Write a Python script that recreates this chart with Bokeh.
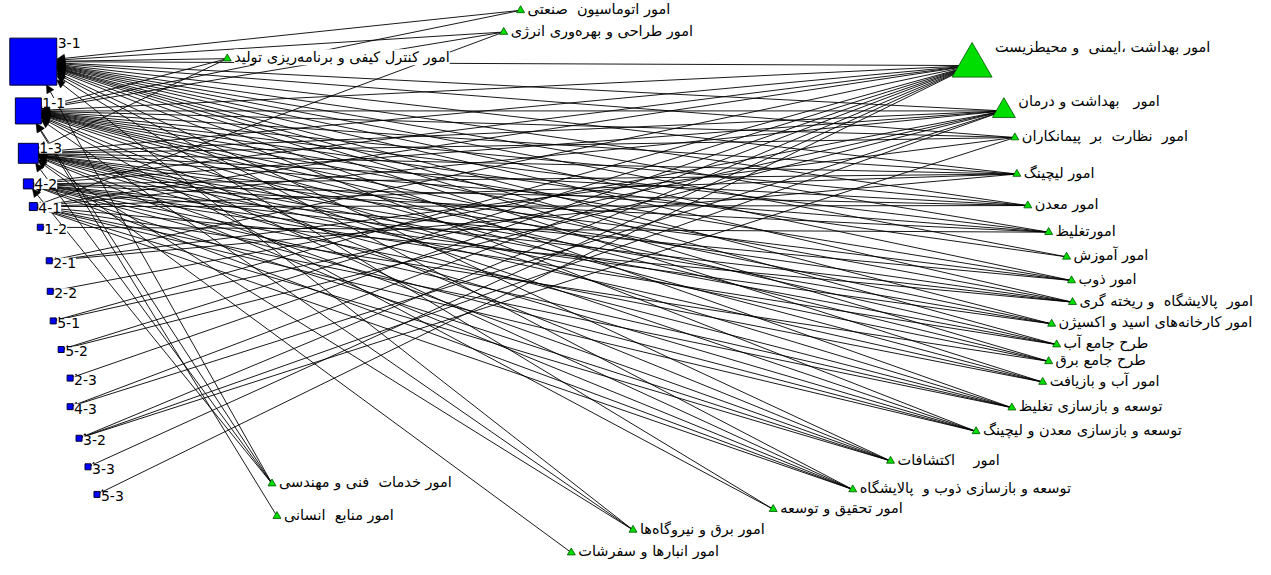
from bokeh.plotting import figure
from bokeh.models import ColumnDataSource, Arrow, NormalHead, LabelSet, Range1d
from bokeh.core.properties import value
from bokeh.embed import file_html
from bokeh.resources import INLINE

# ---------------- data ----------------
codes = ["3-1", "1-1", "1-3", "4-2", "4-1", "1-2", "2-1", "2-2",
         "5-1", "5-2", "2-3", "4-3", "3-2", "3-3", "5-3"]

departments = [
    "امور اتوماسیون  صنعتی",
    "امور طراحی و بهره\u200cوری انرژی",
    "امور کنترل کیفی و برنامه\u200cریزی تولید",
    "امور بهداشت ،ایمنی  و محیطزیست",
    "امور   بهداشت و درمان",
    "امور  نظارت  بر  پیمانکاران",
    "امور لیچینگ",
    "امور معدن",
    "امورتغلیظ",
    "امور آموزش",
    "امور ذوب",
    "امور  پالایشگاه  و ریخته گری",
    "امور کارخانه\u200cهای اسید و اکسیژن",
    "طرح جامع آب",
    "طرح جامع برق",
    "امور آب و بازیافت",
    "توسعه و بازسازی تغلیظ",
    "توسعه و بازسازی معدن و لیچینگ",
    "امور    اکتشافات",
    "توسعه و بازسازی ذوب و  پالایشگاه",
    "امور تحقیق و توسعه",
    "امور برق و نیروگاه\u200cها",
    "امور انبارها و سفرشات",
    "امور خدمات  فنی و مهندسی",
    "امور منابع  انسانی",
]

# ties: department -> codes (arrow points to the code)
dept_links = [
    ["3-1", "1-1"],
    ["3-1", "1-1", "4-1"],
    ["3-1", "1-1", "1-3"],
    ["3-1", "1-1", "1-3", "4-2", "4-1", "2-1", "5-1", "5-2", "2-3", "4-3", "3-2", "3-3", "5-3"],
    ["3-1", "1-1", "1-3", "4-2", "4-1", "2-2", "5-1", "5-2", "4-3", "3-2"],
    ["3-1", "1-1", "1-3", "2-1", "3-2"],
    ["3-1", "1-1", "1-3", "4-2", "4-1", "2-1"],
    ["3-1", "1-1", "1-3", "4-2", "4-1"],
    ["3-1", "1-1", "1-3", "4-2", "1-2"],
    ["3-1", "1-1"],
    ["3-1", "1-1", "1-3", "4-2"],
    ["3-1", "1-1", "1-3", "4-2", "4-1"],
    ["3-1", "1-1", "1-3", "4-2"],
    ["3-1", "1-1", "1-3", "4-2"],
    ["3-1", "1-1", "1-3", "4-1"],
    ["3-1", "1-1", "1-3", "4-2"],
    ["3-1", "1-1", "1-3", "4-2", "4-1"],
    ["3-1", "1-1", "1-3", "4-2", "4-1"],
    ["3-1", "1-1", "1-3", "4-2", "4-1"],
    ["3-1", "1-1", "1-3", "4-2", "4-1"],
    ["3-1", "1-1"],
    ["3-1", "1-1", "1-3"],
    ["1-3"],
    ["3-1", "1-1", "1-3", "4-2"],
    ["1-1"],
]

# ---------------- layout (screen-like coordinates) ----------------
code_x = [33, 28, 28, 28, 33, 40, 49, 50, 53, 61, 70, 70, 79, 88, 97]
code_y = [66, 116, 159, 190, 213, 234, 268, 299, 329, 358, 387, 416, 448, 477, 505]
code_size = [47, 26, 20, 10, 8, 6, 6, 6, 6, 6, 6, 6, 6, 6, 6]

dept_x = [523, 506, 228, 977, 1009, 1020, 1022, 1033, 1054, 1072, 1077, 1078, 1057,
          1062, 1054, 1048, 1017, 981, 895, 857, 777, 636, 574, 273, 278]
dept_y = [14, 36, 63, 70, 116, 143, 180, 212, 239, 264, 288, 310, 332,
          353, 370, 391, 417, 441, 471, 500, 520, 541, 564, 494, 527]
dept_size = [8, 8, 8, 40, 23] + [8] * 20

# ---------------- figure ----------------
W, H = 1255, 559
p = figure(width=W, height=H, x_range=Range1d(0, 1262), y_range=Range1d(571, 4),
           output_backend="svg", toolbar_location=None, min_border=0,
           x_axis_location=None, y_axis_location=None)
p.grid.visible = False
p.outline_line_color = None
p.background_fill_color = "white"

# edges (split by target size so arrowheads suit the node)
cidx = {c: i for i, c in enumerate(codes)}
big = {k: [] for k in ("x0", "y0", "x1", "y1")}
small = {k: [] for k in ("x0", "y0", "x1", "y1")}
for d, targets in enumerate(dept_links):
    tx, ty = dept_x[d], dept_y[d]
    for c in targets:
        i = cidx[c]
        cx, cy, h = code_x[i], code_y[i], code_size[i] / 2.0
        dx, dy = tx - cx, ty - cy
        t = h / max(abs(dx), abs(dy))
        bucket = big if code_size[i] >= 10 else small
        bucket["x0"].append(tx); bucket["y0"].append(ty)
        bucket["x1"].append(cx + t * dx); bucket["y1"].append(cy + t * dy)

for data, hs in ((big, 8), (small, 4)):
    p.add_layout(Arrow(x_start="x0", y_start="y0", x_end="x1", y_end="y1",
                       source=ColumnDataSource(data),
                       line_color="black", line_width=1, line_alpha=0.9, level="underlay",
                       end=NormalHead(size=hs, fill_color="black", line_color="black",
                                      line_width=0.5)))


def show_spaces(s):
    return s.replace("  ", " \u00a0")


# nodes
csrc = ColumnDataSource(dict(x=code_x, y=code_y, s=code_size, name=codes,
                             lx=[x + s / 2 + 1 for x, s in zip(code_x, code_size)],
                             ly=[y - s / 2 + 5 for y, s in zip(code_y, code_size)]))
p.scatter("x", "y", size="s", marker="square", source=csrc,
          fill_color="#0000FF", line_color="#000030", line_width=1)

dsrc = ColumnDataSource(dict(x=dept_x, y=dept_y, s=dept_size,
                             name=[show_spaces(d) for d in departments],
                             lx=[x + s / 2 + 3 for x, s in zip(dept_x, dept_size)],
                             ly=[y - 0.55 * s + 3 for y, s in zip(dept_y, dept_size)]))
p.scatter("x", "y", size="s", marker="triangle", source=dsrc,
          fill_color="#00DD00", line_color="#005500", line_width=0.8)

p.add_layout(LabelSet(x="lx", y="ly", text="name", source=csrc,
                      text_font=value("DejaVu Sans"), text_font_size="14px",
                      text_baseline="middle", text_align="left", text_color="black",
                      background_fill_color="white"))
p.add_layout(LabelSet(x="lx", y="ly", text="name", source=dsrc,
                      text_font=value("DejaVu Sans"), text_font_size="14.5px",
                      text_baseline="middle", text_align="left", text_color="black",
                      background_fill_color="white"))

open("out.html", "w").write(file_html(p, INLINE))
